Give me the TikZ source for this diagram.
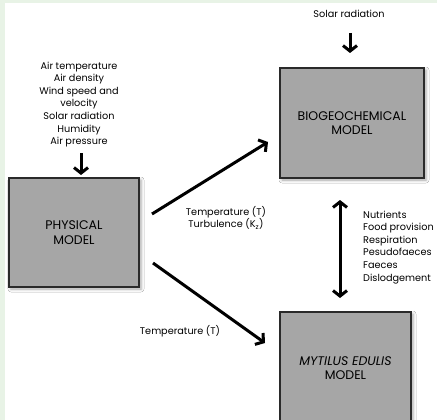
\documentclass[tikz,border=0pt]{standalone}
\usepackage{fontspec}
\setmainfont{Poppins}
\usetikzlibrary{arrows.meta,shadows.blur,calc}
\definecolor{bggreen}{HTML}{E8F3E6}
\definecolor{boxgray}{HTML}{A6A6A6}
\definecolor{edgegray}{HTML}{2A2A2A}
\begin{document}
\begin{tikzpicture}[x=1pt,y=-1pt,
  modelbox/.style={draw=edgegray, line width=1.5pt, fill=boxgray,
    blur shadow={shadow xshift=2pt, shadow yshift=-2pt, shadow blur radius=3pt, shadow opacity=35},
    font=\fontsize{12.5}{14.5}\selectfont, align=center, inner sep=0pt},
  lbl/.style={font=\fontsize{9.7}{12.6}\selectfont, inner sep=0pt},
  arr/.style={line width=3pt, -{Straight Barb[length=5.5pt,width=14pt]}},
  dblarr/.style={line width=3pt, {Straight Barb[length=5.5pt,width=14pt]}-{Straight Barb[length=5.5pt,width=14pt]}}]
\useasboundingbox (0,0) rectangle (437,420);
\fill[bggreen] (0,0) rectangle (437,420);
\fill[white] (5,3) rectangle (437,420);

% boxes
\node[modelbox, minimum width=144pt, minimum height=110pt] (bio) at (352,123) {BIOGEOCHEMICAL\\MODEL};
\node[modelbox, minimum width=130pt, minimum height=109pt] (phys) at (74,232.5) {PHYSICAL\\MODEL};
\node[modelbox, minimum width=131pt, minimum height=112pt] (myt) at (345.5,368) {\itshape MYTILUS EDULIS\\MODEL};

% labels
\node[lbl, align=center] (solar) at (349,14) {Solar radiation};
\node[lbl, align=center] (air) at (79,104.4) {Air temperature\\Air density\\Wind speed and\\velocity\\Solar radiation\\Humidity\\Air pressure};
\node[lbl, align=center] (tt) at (226,218) {Temperature (T)\\Turbulence (K\textsubscript{z})};
\node[lbl, align=left, anchor=west] (fluxes) at (363,247.3) {Nutrients\\Food provision\\Respiration\\Pesudofaeces\\Faeces\\Dislodgement};
\node[lbl] (tlow) at (180,331) {Temperature (T)};

% arrow end points
\coordinate (s1) at (350,33);
\coordinate (s2) at (350,53);
\coordinate (a1) at (81,153);
\coordinate (a2) at (81,175);
\coordinate (d1) at (152,214);
\coordinate (d2) at (268,142);
\coordinate (e1) at (153,263);
\coordinate (e2) at (265,343);
\coordinate (v1) at (340,200);
\coordinate (v2) at (340,298);

\draw[arr] (s1) -- (s2);
\draw[arr] (a1) -- (a2);
\draw[arr] (d1) -- (d2);
\draw[arr] (e1) -- (e2);
\draw[dblarr] (v1) -- (v2);
\end{tikzpicture}
\end{document}
